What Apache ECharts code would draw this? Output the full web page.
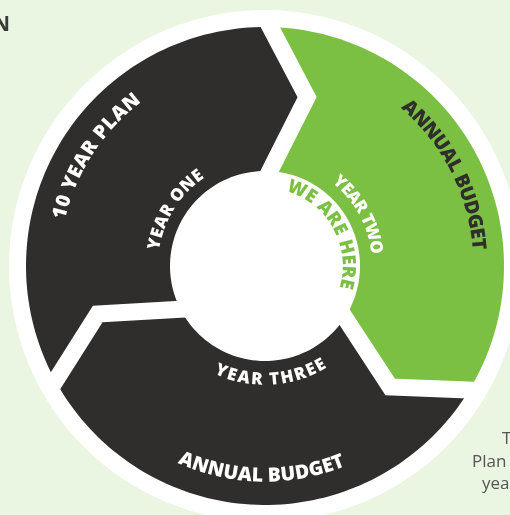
<!DOCTYPE html>
<html><head><meta charset="utf-8">
<script src="https://cdn.jsdelivr.net/npm/echarts@6/dist/echarts.min.js"></script>
<style>html,body{margin:0;padding:0;background:#eaf5e2}#c{width:510px;height:515px}</style>
</head><body><div id="c"></div>
<script>
// ---------- data ----------
const segmentNames = ['Year One', 'Year Two', 'Year Three'];
const segmentShares = [1, 1, 1];
const innerLabels = ['YEAR ONE', 'YEAR TWO', 'YEAR THREE'];
const outerLabels = ['10 YEAR PLAN', 'ANNUAL BUDGET', 'ANNUAL BUDGET'];
const markerLabels = ['', 'WE ARE HERE', ''];
const cornerTexts = ['N', 'T', 'Plan', 'yea'];

// ---------- layout / style ----------
const G = {cx: 265, cy: 266, ringR: 256, outerR: 239, innerR: 95, apexR: 174, tipDeg: 13.5, startDeg: 209.5, gapW: 17};
const COL = {dark: '#2f2e2c', green: '#7bc043', white: '#ffffff', bg: '#eaf5e2', text: '#555555'};
const segFill = [COL.dark, COL.green, COL.dark];
const FONT = '"Open Sans", "DejaVu Sans", sans-serif';
const WEIGHT = '800';
const innerLayout = [
  {r: 112, mid: 148, span: 47, size: 17, dir: 'cw', color: COL.white},
  {r: 112, mid: 28.7, span: 45, size: 17, dir: 'cw', color: COL.white},
  {r: 114, mid: -87, span: 57, size: 17, dir: 'ccw', color: COL.white}
];
const outerLayout = [
  {r: 211, mid: 147, span: 40, size: 19.5, dir: 'cw', color: COL.white},
  {r: 214, mid: 26.8, span: 45, size: 19.5, dir: 'cw', color: COL.dark},
  {r: 210, mid: -91, span: 46, size: 19.5, dir: 'ccw', color: COL.white}
];
const markerLayout = [null, {r: 83, mid: 29, span: 90, size: 18.5, dir: 'cw', color: COL.green}, null];

// segment boundary angles derived from shares
const total = segmentShares.reduce((a, b) => a + b, 0);
const bounds = [G.startDeg];
segmentShares.forEach((s, i) => bounds.push(bounds[i] - 360 * s / total));

const norm = d => ((d % 360) + 360) % 360;
const mctx = document.createElement('canvas').getContext('2d');

function pt(api, r, deg) { return api.coord([r, norm(deg)]); }

function curvedText(api, text, L) {
  if (!text || !L) return [];
  const font = WEIGHT + ' ' + L.size + 'px ' + FONT;
  mctx.font = font;
  const chars = Array.from(text);
  const widths = chars.map(ch => mctx.measureText(ch).width);
  const sum = widths.reduce((a, b) => a + b, 0);
  const arcLen = L.span * Math.PI / 180 * L.r;
  const spacing = (arcLen - sum) / (chars.length - 1);
  const sign = L.dir === 'cw' ? -1 : 1;
  let pos = -arcLen / 2;
  const out = [];
  chars.forEach((ch, k) => {
    const c = pos + widths[k] / 2;
    const deg = L.mid + sign * c / L.r * 180 / Math.PI;
    const p = pt(api, L.r, deg);
    const rot = (L.dir === 'cw' ? deg - 90 : deg + 90) * Math.PI / 180;
    out.push({type: 'text', x: p[0], y: p[1], rotation: rot,
      style: {text: ch, font: font, fill: L.color, textAlign: 'center', textVerticalAlign: 'middle', align: 'center', verticalAlign: 'middle'}});
    pos += widths[k] + spacing;
  });
  return out;
}

function arc(api, r, a0, a1, n) {
  const pts = [];
  for (let t = 0; t <= n; t++) pts.push(pt(api, r, a0 + (a1 - a0) * t / n));
  return pts;
}

const axisOff = {axisLine: {show: false}, axisTick: {show: false}, axisLabel: {show: false}, splitLine: {show: false}};

const option = {
  backgroundColor: COL.bg,
  animation: false,
  polar: {center: [G.cx, G.cy], radius: [0, G.ringR]},
  radiusAxis: Object.assign({type: 'value', min: 0, max: G.ringR}, axisOff),
  angleAxis: Object.assign({type: 'value', min: 0, max: 360, startAngle: 0, clockwise: false}, axisOff),
  series: [
    { // white ring disk
      type: 'custom', coordinateSystem: 'polar', silent: true,
      data: [[G.ringR, 0]],
      renderItem: (params, api) => {
        const c = pt(api, 0, 0), e = pt(api, G.ringR, 0);
        return {type: 'circle', shape: {cx: c[0], cy: c[1], r: Math.hypot(e[0] - c[0], e[1] - c[1])}, style: {fill: COL.white}};
      }
    },
    { // segments
      type: 'custom', coordinateSystem: 'polar', silent: true,
      data: segmentNames.map((n, i) => ({name: n, value: [segmentShares[i], i]})),
      renderItem: (params, api) => {
        const i = params.dataIndex;
        const bt = bounds[i], bl = bounds[i + 1];
        let pts = arc(api, G.outerR, bt, bl, 80);
        pts.push(pt(api, G.apexR, bl - G.tipDeg));
        pts = pts.concat(arc(api, G.innerR, bl, bt, 50));
        pts.push(pt(api, G.apexR, bt - G.tipDeg));
        return {type: 'polygon', shape: {points: pts}, style: {fill: segFill[i]}};
      }
    },
    { // white gaps
      type: 'custom', coordinateSystem: 'polar', silent: true,
      data: segmentNames.map((n, i) => [1, i]),
      renderItem: (params, api) => {
        const b = bounds[params.dataIndex];
        const pts = [pt(api, G.outerR + 10, b + 0.5), pt(api, G.apexR, b - G.tipDeg), pt(api, G.innerR - 8, b)];
        return {type: 'polyline', shape: {points: pts}, style: {stroke: COL.white, lineWidth: G.gapW, fill: null, lineJoin: 'miter', lineCap: 'butt'}};
      }
    },
    { // labels
      type: 'custom', coordinateSystem: 'polar', silent: true,
      data: segmentNames.map((n, i) => [1, i]),
      renderItem: (params, api) => {
        const i = params.dataIndex;
        const children = [].concat(
          curvedText(api, outerLabels[i], outerLayout[i]),
          curvedText(api, innerLabels[i], innerLayout[i]),
          curvedText(api, markerLabels[i], markerLayout[i])
        );
        return {type: 'group', children: children};
      }
    }
  ],
  graphic: [
    {type: 'text', x: 10, y: 25, style: {text: cornerTexts[0], font: 'bold 21px ' + FONT, fill: '#3a3a3a', textAlign: 'right', textVerticalAlign: 'middle', align: 'right', verticalAlign: 'middle'}},
    {type: 'text', x: 502, y: 439, style: {text: cornerTexts[1], font: '17px ' + FONT, fill: COL.text, textVerticalAlign: 'middle', verticalAlign: 'middle'}},
    {type: 'text', x: 472, y: 462, style: {text: cornerTexts[2], font: '17px ' + FONT, fill: COL.text, textVerticalAlign: 'middle', verticalAlign: 'middle'}},
    {type: 'text', x: 482, y: 484, style: {text: cornerTexts[3], font: '17px ' + FONT, fill: COL.text, textVerticalAlign: 'middle', verticalAlign: 'middle'}}
  ]
};

const chart = echarts.init(document.getElementById('c'), null, {renderer: 'canvas'});
chart.setOption(option);
</script>
</body></html>
